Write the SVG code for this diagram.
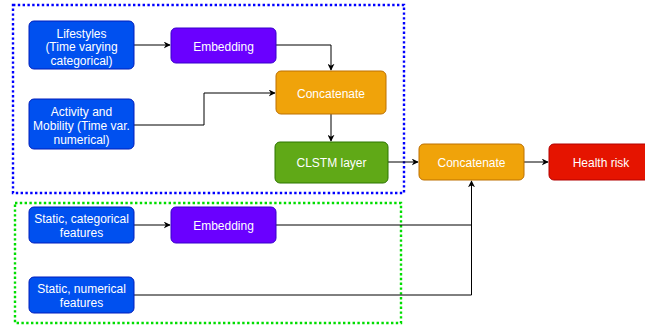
<svg xmlns="http://www.w3.org/2000/svg" width="645" height="327" viewBox="0 0 645 327">
<defs>
<style>
text{font-family:"Liberation Sans",Arial,sans-serif;font-size:12px;fill:#ffffff;text-anchor:middle}
.n rect{stroke-width:1}
.blue rect{fill:#0050EF;stroke:#001DBC}
.purple rect{fill:#6A00FF;stroke:#3700CC}
.orange rect{fill:#F0A30A;stroke:#BD7000}
.green rect{fill:#60A917;stroke:#2D7600}
.red rect{fill:#E51400;stroke:#B20000}
.c{fill:none;stroke:#000;stroke-width:1;marker-end:url(#arr)}
.cn{fill:none;stroke:#000;stroke-width:1}
.grp{fill:none;stroke-width:2.4;stroke-dasharray:2.4 2.4}
</style>
<marker id="arr" viewBox="0 0 10 10" refX="9" refY="5" markerWidth="7" markerHeight="7" orient="auto" markerUnits="userSpaceOnUse">
<path d="M0,0 L10,5 L0,10 L3,5 Z" fill="#000"/>
</marker>
</defs>
<g id="groups">
<rect x="13" y="5" width="391" height="188" class="grp" stroke="#0000FF"/>
<rect x="15" y="203" width="386" height="120" class="grp" stroke="#00DD00"/>
</g>
<g id="connectors">
<path class="c" d="M134,45 H170"/>
<path class="c" d="M276,45 H331 V70"/>
<path class="c" d="M134,125 H204 V93 H275"/>
<path class="c" d="M331,114 V141"/>
<path class="c" d="M388,162 H418"/>
<path class="c" d="M524,162 H548"/>
<path class="c" d="M134,225 H170"/>
<path class="cn" d="M276,225 H471.5"/>
<path class="c" d="M134,295 H471.5 V181"/>
</g>
<g id="lifestyles" class="n blue"><rect x="29" y="21" width="105" height="48" rx="5"/><text x="81.5" y="37.5">Lifestyles</text><text x="81.5" y="51">(Time varying</text><text x="81.5" y="65">categorical)</text></g>
<g id="activity" class="n blue"><rect x="29" y="99" width="105" height="50" rx="5"/><text x="81.5" y="116">Activity and</text><text x="81.5" y="130">Mobility (Time var.</text><text x="81.5" y="144">numerical)</text></g>
<g id="embedding1" class="n purple"><rect x="171" y="28" width="105" height="35" rx="5"/><text x="223.5" y="51">Embedding</text></g>
<g id="concat1" class="n orange"><rect x="276" y="71" width="110" height="43" rx="5"/><text x="331" y="98">Concatenate</text></g>
<g id="clstm" class="n green"><rect x="275" y="142" width="113" height="41" rx="5"/><text x="331.5" y="166.5">CLSTM layer</text></g>
<g id="concat2" class="n orange"><rect x="419" y="144" width="105" height="36" rx="5"/><text x="471.5" y="166.5">Concatenate</text></g>
<g id="health" class="n red"><rect x="549" y="144" width="105" height="36" rx="5"/><text x="601" y="166.5">Health risk</text></g>
<g id="staticcat" class="n blue"><rect x="29" y="207" width="105" height="36" rx="5"/><text x="81.5" y="223">Static, categorical</text><text x="81.5" y="237">features</text></g>
<g id="embedding2" class="n purple"><rect x="171" y="207" width="105" height="36" rx="5"/><text x="223.5" y="230">Embedding</text></g>
<g id="staticnum" class="n blue"><rect x="29" y="277" width="105" height="36" rx="5"/><text x="81.5" y="293">Static, numerical</text><text x="81.5" y="306.5">features</text></g>
</svg>
